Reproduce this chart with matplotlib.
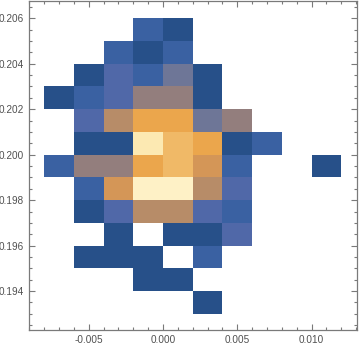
import numpy as np
import matplotlib
matplotlib.use("Agg")
import matplotlib.pyplot as plt
from matplotlib.colors import LinearSegmentedColormap, Normalize
from matplotlib.ticker import MultipleLocator, FormatStrFormatter

# bin edges of the 2D histogram
x_edges = [-0.008, -0.006, -0.004, -0.002, 0.000, 0.002, 0.004, 0.006, 0.008, 0.010, 0.012]
y_edges = [0.193, 0.194, 0.195, 0.196, 0.197, 0.198, 0.199, 0.200, 0.201, 0.202,
           0.203, 0.204, 0.205, 0.206]

# counts per cell, rows listed from the top (0.205-0.206) to the bottom (0.193-0.194)
counts_top_down = [
    [0, 0, 0, 2, 1, 0, 0, 0, 0, 0],
    [0, 0, 2, 1, 2, 0, 0, 0, 0, 0],
    [0, 1, 3, 2, 4, 1, 0, 0, 0, 0],
    [1, 2, 3, 5, 5, 1, 0, 0, 0, 0],
    [0, 3, 6, 8, 8, 4, 5, 0, 0, 0],
    [0, 1, 1, 11, 9, 8, 1, 2, 0, 0],
    [2, 5, 5, 8, 9, 7, 2, 0, 0, 1],
    [0, 2, 7, 12, 12, 6, 3, 0, 0, 0],
    [0, 1, 3, 6, 6, 3, 2, 0, 0, 0],
    [0, 0, 1, 0, 1, 1, 3, 0, 0, 0],
    [0, 1, 1, 1, 0, 2, 0, 0, 0, 0],
    [0, 0, 0, 1, 1, 0, 0, 0, 0, 0],
    [0, 0, 0, 0, 0, 1, 0, 0, 0, 0],
]

# Mathematica-like density gradient, one anchor per count level 1..12
grad = ["#275089", "#3A61A2", "#5068A8", "#6F7697", "#937E7D", "#B78C68",
        "#D49657", "#EBA64C", "#F0B866", "#F7D590", "#FCE9B2", "#FEF1C6"]
cmap = LinearSegmentedColormap.from_list("m10", grad)

plt.rcParams["font.family"] = ["Liberation Sans", "DejaVu Sans"]
plt.rcParams["axes.unicode_minus"] = False

z = np.array(counts_top_down[::-1], dtype=float)
z = np.ma.masked_where(z == 0, z)

fig = plt.figure(figsize=(3.6, 3.48), dpi=100)
ax = fig.add_axes([29 / 360, 18 / 348, 328 / 360, 329 / 348])
ax.pcolormesh(x_edges, y_edges, z, cmap=cmap, norm=Normalize(1, 12),
              edgecolor="face", linewidth=0.0, antialiased=False)

ax.set_xlim(-0.00902, 0.01306)
ax.set_ylim(0.19229, 0.20676)

ax.xaxis.set_major_locator(MultipleLocator(0.005))
ax.xaxis.set_minor_locator(MultipleLocator(0.001))
ax.yaxis.set_major_locator(MultipleLocator(0.002))
ax.yaxis.set_minor_locator(MultipleLocator(0.0005))
ax.xaxis.set_major_formatter(FormatStrFormatter("%.3f"))
ax.yaxis.set_major_formatter(FormatStrFormatter("%.3f"))

grey = "#7a7a7a"
for s in ax.spines.values():
    s.set_color(grey)
    s.set_linewidth(0.9)
ax.tick_params(which="both", direction="in", top=True, right=True,
               color=grey, width=0.8, labelcolor="#505050", labelsize=7.2, pad=3.5)
ax.tick_params(which="major", length=4.5)
ax.tick_params(which="minor", length=2.5)
ax.tick_params(axis="x", labeltop=False)
ax.tick_params(axis="y", labelright=False)

fig.savefig("out.png", dpi=100)
